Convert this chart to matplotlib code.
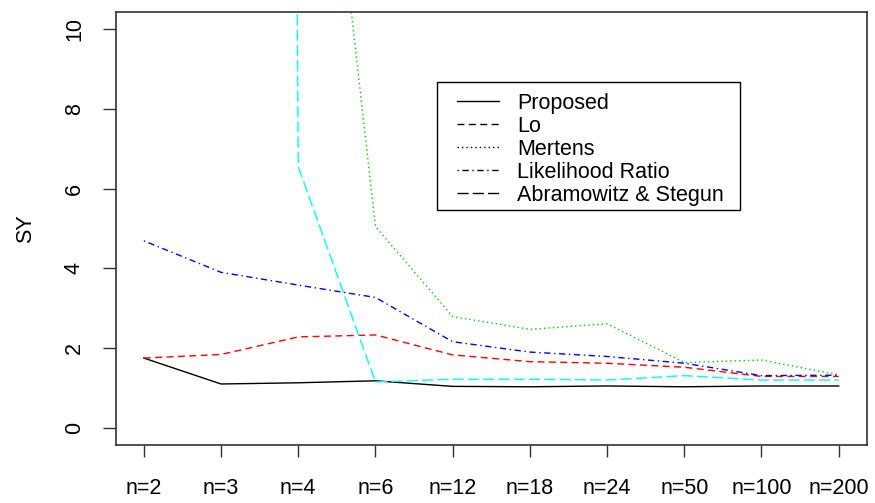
import matplotlib.pyplot as plt
from matplotlib.patches import Rectangle

sample_sizes = ["n=2", "n=3", "n=4", "n=6", "n=12", "n=18", "n=24", "n=50", "n=100", "n=200"]

proposed = [1.75, 1.10, 1.13, 1.18, 1.04, 1.03, 1.05, 1.03, 1.05, 1.05]
lo = [1.75, 1.84, 2.28, 2.33, 1.83, 1.66, 1.62, 1.52, 1.29, 1.29]
mertens = [60.0, 40.0, 22.3, 5.05, 2.79, 2.47, 2.61, 1.64, 1.70, 1.33]
likelihood_ratio = [4.69, 3.90, 3.58, 3.27, 2.16, 1.90, 1.79, 1.62, 1.31, 1.32]
abramowitz_stegun = [300.0, 300.0, 6.55, 1.15, 1.22, 1.22, 1.20, 1.31, 1.20, 1.20]

series = [
    ("Proposed", proposed, "black", "-"),
    ("Lo", lo, "#FF0000", (0, (5.0, 3.2))),
    ("Mertens", mertens, "#00CD00", (0, (1.0, 2.2))),
    ("Likelihood Ratio", likelihood_ratio, "#0000FF", (0, (1.0, 2.6, 4.5, 2.6))),
    ("Abramowitz & Stegun", abramowitz_stegun, "#00FFFF", (0, (8.0, 3.0))),
]

plt.rcParams['font.family'] = ['Liberation Sans', 'DejaVu Sans']
plt.rcParams['font.size'] = 15.5

AXIS_COLOR = "#333333"

fig = plt.figure(figsize=(8.75, 5.03), dpi=100)
ax = fig.add_axes([116 / 875, 58 / 503, 750.5 / 875, 432.7 / 503])

x = range(1, len(sample_sizes) + 1)
for name, values, color, style in series:
    ax.plot(x, values, color=color, linestyle=style, linewidth=1.0, label=name)

ax.set_xlim(0.64, 10.36)
ax.set_ylim(-0.43, 10.42)
ax.set_xticks(list(x))
ax.set_xticklabels(sample_sizes)
ax.set_yticks([0, 2, 4, 6, 8, 10])
ax.set_yticklabels(["0", "2", "4", "6", "8", "10"], rotation=90, va="center")

for side in ["top", "right", "left", "bottom"]:
    ax.spines[side].set_linewidth(1.2)
    ax.spines[side].set_color(AXIS_COLOR)

ax.tick_params(axis='x', length=8.5, width=1.0, color=AXIS_COLOR, pad=15)
ax.tick_params(axis='y', length=9.4, width=1.0, color=AXIS_COLOR, pad=13)

ax.set_ylabel("SY")
ax.yaxis.set_label_coords(-0.106, 0.5)

# legend entries sit inside a separately drawn box
leg = ax.legend(loc="upper left", bbox_to_anchor=(457 / 875, 1 - 93 / 503),
                bbox_transform=fig.transFigure, borderaxespad=0, borderpad=0,
                frameon=False, handlelength=1.93, handletextpad=0.85,
                labelspacing=0.09)
for line in leg.get_lines():
    line.set_color("black")
fig.add_artist(Rectangle((437 / 875, 1 - 210 / 503), 303 / 875, 128 / 503,
                         transform=fig.transFigure, fill=False,
                         linewidth=1.0, edgecolor="black"))

plt.savefig("out.png", dpi=100)
